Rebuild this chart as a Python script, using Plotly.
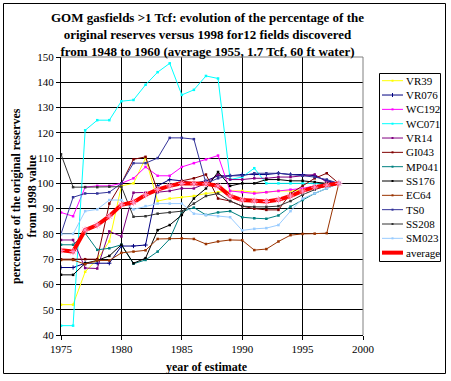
import plotly.graph_objects as go

years = list(range(1975, 1999))

VR39 = [52, 52, 65, 70, 77, 99, 100, 110, 93, 94, 94.5, 95, 96, 96.5, 97, 97, 96.5, 96.5, 97, 97, 97.5, 98, 99, 100]
VR076 = [66.7, 66.7, 68.4, 68.4, 68.4, 75.2, 75.2, 75.6, 99, 101.5, 101, 100, 101, 103, 103, 103.5, 103.5, 103.5, 104, 103.5, 103.5, 103, 101, 100]
WC192 = [88.5, 87, 98.5, 99, 99, 100, 102, 106.5, 103, 103, 106.5, 108, 109.5, 111, 97, 96.5, 96, 96.5, 97, 97.5, 98, 99, 99.5, 100]
WC071 = [43.7, 43.7, 121, 125, 125, 132.5, 133, 139, 144, 147.5, 135, 137, 142.5, 141.5, 101.5, 102.5, 106, 100, 100, 100, 100, 100, 99.5, 100]
VR14 = [77.6, 77.6, 66.5, 66.3, 81, 79, 96.3, 96.3, 96.5, 97, 98, 98, 100, 103.5, 101.5, 101.5, 102, 102, 102.5, 102.5, 103, 103.5, 100.5, 100]
GI043 = [70, 70, 70, 70, 92, 100, 109.5, 110.5, 97, 99, 101, 102, 103.5, 94, 93, 91, 90, 89.5, 89.5, 96, 99, 102, 104, 100]
MP041 = [75.7, 75.7, 80.3, 73.7, 74.3, 75.7, 68.2, 69.7, 73, 78, 88.8, 90.4, 87.5, 88.5, 89, 86.6, 86.2, 86, 87.3, 90.8, 93.4, 96, 98, 100]
SS176 = [63.8, 63.8, 68.4, 69.5, 71.3, 75.7, 68.4, 70.4, 81.5, 83.5, 87.5, 94, 98, 104.5, 99, 100, 100, 101.5, 101.5, 101, 101, 100.5, 100, 100]
EC64 = [69.7, 69.7, 68, 69.5, 69.5, 72.5, 73, 73.5, 78, 78.2, 78.2, 78, 76, 77, 77.6, 77.5, 73.6, 74, 77, 79.5, 80, 80.1, 80.3, 100]
TS0 = [80, 94.5, 96, 96, 96.5, 100, 108, 108, 110, 118, 118, 117.5, 100, 102, 103, 103, 104, 104, 104, 103.5, 103, 102.5, 101.5, 100]
SS208 = [111.5, 98.5, 98.5, 98.5, 98.7, 98.7, 86.8, 87, 88, 88.5, 89, 92, 95, 96, 93, 91, 90.7, 90.7, 91, 93, 95.5, 97.5, 99, 100]
SM023 = [80, 80, 89, 89.7, 93.4, 93.4, 89.7, 91, 92, 92, 92, 88, 87.5, 87, 86.6, 81.4, 82, 82.3, 83.5, 89, 94, 96, 98, 100]
average = [73.5, 73, 81.5, 83.5, 87, 91.5, 92.5, 95.5, 97.5, 99, 100, 99.8, 99.8, 99, 95, 93.4, 93, 92.8, 93.5, 95, 97, 98.5, 99.3, 100]

series = [
    ("VR39", VR39, "#FFFF00", "square"),
    ("VR076", VR076, "#000080", "cross-thin-open"),
    ("WC192", WC192, "#FF00FF", "square"),
    ("WC071", WC071, "#00FFFF", "square"),
    ("VR14", VR14, "#800080", "square"),
    ("GI043", GI043, "#800000", "square"),
    ("MP041", MP041, "#008080", "square"),
    ("SS176", SS176, "#000000", "square"),
    ("EC64", EC64, "#993300", "square"),
    ("TS0", TS0, "#333399", "square"),
    ("SS208", SS208, "#333333", "square"),
    ("SM023", SM023, "#99CCFF", "square"),
]

W, H = 451, 381
ML, MR, MT, MB = 61, 88, 57, 46
PW, PH = W - ML - MR, H - MT - MB


def px(x):
    return (x - ML) / PW


def py(y):
    return (H - MB - y) / PH


fig = go.Figure()
for name, vals, col, sym in series:
    fig.add_trace(go.Scatter(
        x=years, y=vals, name=name, mode="lines+markers",
        line=dict(color=col, width=1),
        marker=dict(symbol=sym, size=3 if sym != "square" else 2.5, color=col,
                    line=dict(color=col, width=1 if sym != "square" else 0)),
        showlegend=False,
    ))
fig.add_trace(go.Scatter(
    x=years, y=average, name="average", mode="lines+markers",
    line=dict(color="#FF0000", width=4),
    marker=dict(symbol="asterisk-open", size=6, color="#FF99CC", line=dict(color="#FF99CC", width=1)),
    showlegend=False,
))

serif = "Liberation Serif, Times New Roman, serif"

shapes = [
    dict(type="line", xref="paper", yref="paper", x0=0, x1=1, y0=1, y1=1,
         line=dict(color="#808080", width=1)),
    dict(type="line", xref="paper", yref="paper", x0=1, x1=1, y0=0, y1=1,
         line=dict(color="#808080", width=1)),
    dict(type="rect", xref="paper", yref="paper", x0=px(3.5), x1=px(445.5), y0=py(373.5), y1=py(3.5),
         line=dict(color="black", width=1)),
    dict(type="rect", xref="paper", yref="paper", x0=px(379.5), x1=px(440.5), y0=py(261.5), y1=py(73.5),
         line=dict(color="black", width=1), fillcolor="white", layer="below"),
]
annotations = [
    dict(text="<b>GOM gasfields >1 Tcf: evolution of the percentage of the<br>original reserves versus 1998 for12 fields discovered<br>from 1948 to 1960 (average 1955, 1.7 Tcf, 60 ft water)</b>",
         xref="paper", yref="paper", x=px(207), y=py(8), xanchor="center", yanchor="top",
         showarrow=False, font=dict(family=serif, size=13, color="black")),
    dict(text="<b>percentage of the original reserves<br>from 1998 value</b>",
         xref="paper", yref="paper", x=px(24), y=0.5, xanchor="center", yanchor="middle",
         textangle=-90, showarrow=False, font=dict(family=serif, size=12, color="black")),
    dict(text="<b>year of estimate</b>",
         xref="paper", yref="paper", x=px(207), y=py(367), xanchor="center", yanchor="middle",
         showarrow=False, font=dict(family=serif, size=12, color="black")),
]

# compact legend box, as in the spreadsheet original
leg_names = [s[0] for s in series] + ["average"]
leg_cols = [s[2] for s in series] + ["#FF0000"]
for i, (nm, col) in enumerate(zip(leg_names, leg_cols)):
    yc = 80.7 + i * 14.33
    lw = 4 if nm == "average" else 1
    shapes.append(dict(type="line", xref="paper", yref="paper", x0=px(382), x1=px(403),
                       y0=py(yc), y1=py(yc), line=dict(color=col, width=lw)))
    if nm != "average":
        if nm == "VR076":
            shapes.append(dict(type="line", xref="paper", yref="paper", x0=px(392.5), x1=px(392.5),
                               y0=py(yc - 2), y1=py(yc + 2), line=dict(color=col, width=1)))
        else:
            shapes.append(dict(type="rect", xref="paper", yref="paper", x0=px(391.5), x1=px(393.5),
                               y0=py(yc + 1), y1=py(yc - 1), line=dict(color=col, width=0),
                               fillcolor=col))
    annotations.append(dict(text=nm, xref="paper", yref="paper", x=px(403.5), y=py(yc),
                            xanchor="left", yanchor="middle", showarrow=False,
                            font=dict(family=serif, size=11, color="black")))

fig.update_layout(
    width=W, height=H, autosize=False,
    margin=dict(l=ML, r=MR, t=MT, b=MB, pad=0),
    paper_bgcolor="white", plot_bgcolor="white",
    font=dict(family=serif, size=11, color="black"),
    showlegend=False,
    xaxis=dict(
        range=[1975, 2000], dtick=5, tick0=1975,
        showgrid=True, gridcolor="black", gridwidth=1,
        showline=True, linecolor="black", linewidth=1,
        ticks="outside", ticklen=4, tickcolor="black",
        zeroline=False, tickfont=dict(family=serif, size=11),
    ),
    yaxis=dict(
        range=[40, 150], dtick=10, tick0=40,
        showgrid=True, gridcolor="black", gridwidth=1,
        showline=True, linecolor="black", linewidth=1,
        ticks="outside", ticklen=4, tickcolor="black",
        zeroline=False, tickfont=dict(family=serif, size=11),
    ),
    shapes=shapes,
    annotations=annotations,
)

fig.write_html("out.html", config={"displayModeBar": False},
               post_script="document.body.style.margin='0px';")
